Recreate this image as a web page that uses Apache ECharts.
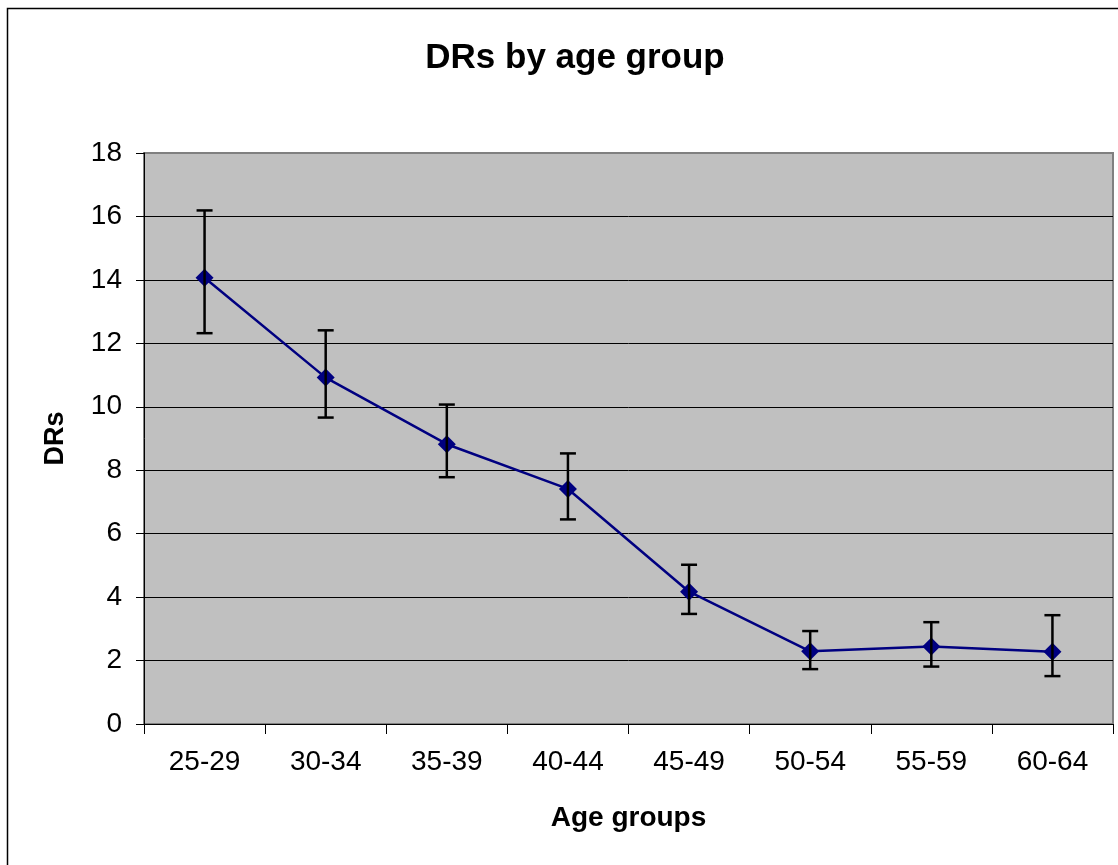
<!DOCTYPE html>
<html>
<head>
<meta charset="utf-8">
<script src="https://cdn.jsdelivr.net/npm/echarts@6/dist/echarts.min.js"></script>
<style>
  html, body { margin: 0; padding: 0; background: #ffffff; }
  #chart { width: 1118px; height: 865px; }
</style>
</head>
<body>
<div id="chart"></div>
<script>
// age groups on the x axis
const ageGroups = ['25-29', '30-34', '35-39', '40-44', '45-49', '50-54', '55-59', '60-64'];
// DR estimate per age group
const drValues = [14.07, 10.92, 8.82, 7.41, 4.17, 2.29, 2.44, 2.28];
// error bar bounds
const errLow = [12.32, 9.66, 7.78, 6.45, 3.47, 1.73, 1.81, 1.51];
const errHigh = [16.19, 12.41, 10.07, 8.53, 5.02, 2.93, 3.21, 3.43];

const font = '"Liberation Sans", Arial, sans-serif';
const chart = echarts.init(document.getElementById('chart'));

const errData = ageGroups.map((g, i) => [i, errLow[i], errHigh[i]]);

// last split line (top, y=18) is the grey plot border in the original
const splitColors = ['#000', '#000', '#000', '#000', '#000', '#000', '#000', '#000', '#000', '#808080'];

const option = {
  animation: false,
  backgroundColor: '#ffffff',
  title: {
    text: 'DRs by age group',
    left: 570,
    top: 36,
    textAlign: 'center',
    textStyle: { fontFamily: font, fontSize: 35, fontWeight: 'bold', color: '#000' },
  },
  graphic: [
    {
      type: 'rect',
      left: 5,
      top: 6,
      shape: { x: 0, y: 0, width: 1130, height: 880 },
      style: { fill: 'none', stroke: '#000', lineWidth: 1.5 },
      silent: true,
    },
  ],
  grid: {
    left: 144,
    right: 5,
    top: 153,
    bottom: 141,
    show: true,
    backgroundColor: '#c0c0c0',
    borderColor: '#808080',
    borderWidth: 2,
  },
  xAxis: {
    type: 'category',
    data: ageGroups,
    boundaryGap: true,
    name: 'Age groups',
    nameLocation: 'middle',
    nameGap: 80,
    nameTextStyle: { fontFamily: font, fontSize: 28, fontWeight: 'bold', color: '#000' },
    axisLine: { lineStyle: { color: '#000', width: 1 } },
    axisTick: { show: true, length: 10, alignWithLabel: false, lineStyle: { color: '#000' } },
    axisLabel: { fontFamily: font, fontSize: 28, color: '#000', margin: 24 },
    splitLine: { show: false },
  },
  yAxis: {
    type: 'value',
    min: 0,
    max: 18,
    interval: 2,
    name: 'DRs',
    nameLocation: 'middle',
    nameGap: 75,
    nameRotate: 90,
    nameTextStyle: { fontFamily: font, fontSize: 27, fontWeight: 'bold', color: '#000' },
    axisLine: { show: true, lineStyle: { color: '#000', width: 1 } },
    axisTick: { show: true, length: 8, lineStyle: { color: '#000' } },
    axisLabel: { fontFamily: font, fontSize: 28, color: '#000', margin: 22 },
    splitLine: { show: true, lineStyle: { color: splitColors, width: 1 } },
  },
  series: [
    {
      name: 'DRs',
      type: 'line',
      data: drValues,
      symbol: 'diamond',
      symbolSize: 18,
      lineStyle: { color: '#000080', width: 2.5 },
      itemStyle: { color: '#000080' },
      z: 3,
    },
    {
      type: 'custom',
      name: 'error',
      data: errData,
      z: 4,
      renderItem: (params, api) => {
        const x = api.value(0);
        const lo = api.coord([x, api.value(1)]);
        const hi = api.coord([x, api.value(2)]);
        const half = 8;
        const style = { stroke: '#000', lineWidth: 2.5 };
        return {
          type: 'group',
          children: [
            { type: 'line', shape: { x1: hi[0], y1: hi[1], x2: lo[0], y2: lo[1] }, style },
            { type: 'line', shape: { x1: hi[0] - half, y1: hi[1], x2: hi[0] + half, y2: hi[1] }, style },
            { type: 'line', shape: { x1: lo[0] - half, y1: lo[1], x2: lo[0] + half, y2: lo[1] }, style },
          ],
        };
      },
    },
  ],
};

chart.setOption(option);
</script>
</body>
</html>
